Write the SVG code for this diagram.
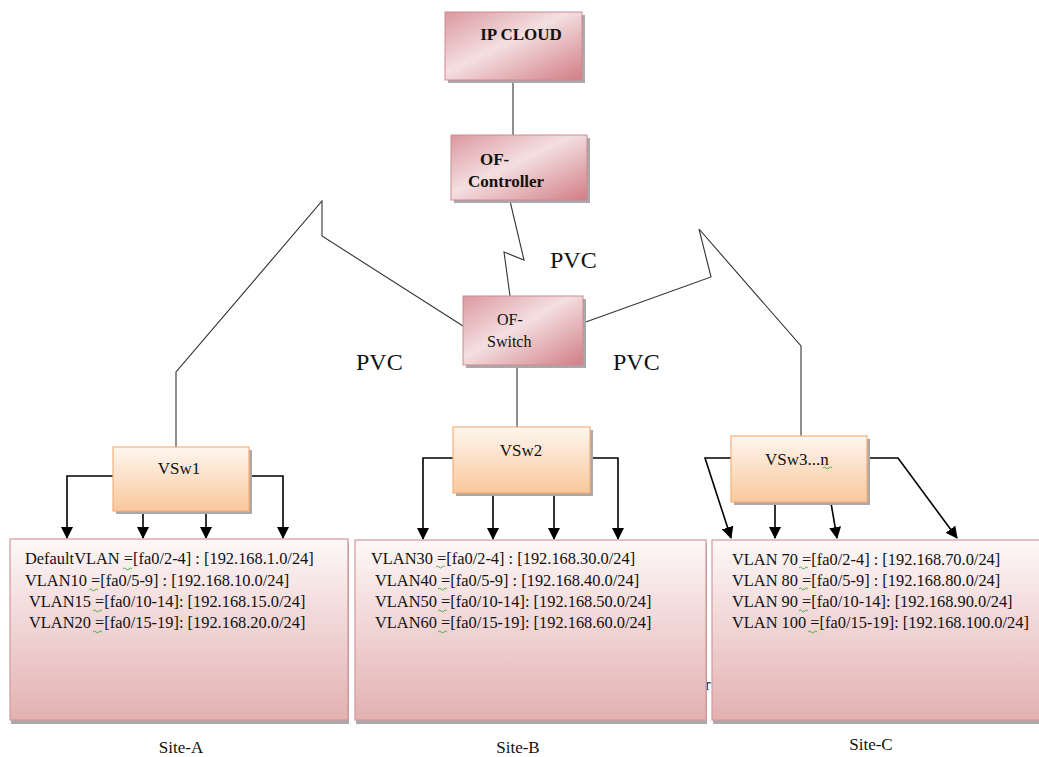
<svg xmlns="http://www.w3.org/2000/svg" width="1039" height="757" viewBox="0 0 1039 757">
<defs>
<linearGradient id="gPink" x1="0" y1="0" x2="1" y2="1">
<stop offset="0" stop-color="#db98a0"/><stop offset="0.45" stop-color="#f4dfe0"/><stop offset="1" stop-color="#d17d86"/>
</linearGradient>
<linearGradient id="gOrange" x1="0" y1="0" x2="0" y2="1">
<stop offset="0" stop-color="#fef6ef"/><stop offset="1" stop-color="#f9c89c"/>
</linearGradient>
<linearGradient id="gSite" x1="0" y1="0" x2="0" y2="1">
<stop offset="0" stop-color="#fdf8f8"/><stop offset="0.35" stop-color="#f4dede"/><stop offset="1" stop-color="#e3b1b2"/>
</linearGradient>
<marker id="arr" viewBox="0 0 12 12" refX="11" refY="6" markerWidth="12" markerHeight="12" markerUnits="userSpaceOnUse" orient="auto">
<path d="M0,0 L12,6 L0,12 Z" fill="#000"/>
</marker>
</defs>
<style>
.sh{fill:#a9a9a9}
.pk{fill:url(#gPink);stroke:#d08a90;stroke-width:1}
.or{fill:url(#gOrange);stroke:#f5b07a;stroke-width:1.2}
.st{fill:url(#gSite);stroke:#d8979a;stroke-width:1.2}
.ln{fill:none;stroke:#333;stroke-width:1.1}
.ar{fill:none;stroke:#000;stroke-width:1.6;marker-end:url(#arr)}
.sq{fill:none;stroke:#3aa83a;stroke-width:0.9}
text{font-family:"Liberation Serif","Times New Roman",serif;fill:#111}
.b{font-weight:bold;font-size:17px}
.n{font-size:16.4px}
.w{font-size:16px}
.v{font-size:17px}
.p{font-size:24px}
.s{font-size:17px}
</style>
<rect width="1039" height="757" fill="#fff"/>

<g id="connectors">
<path class="ln" d="M513,80 V135"/>
<path class="ln" d="M510,201 L524,260 L504,252 L510,296"/>
<path class="ln" d="M463,326 L322,236 L322,201 L176,372 L176,447"/>
<path class="ln" d="M583,323 L711,277 L699,229 L801,346 L801,436"/>
<path class="ln" d="M517,365 V428"/>
<path class="ar" d="M113,476 H67 V538"/>
<path class="ar" d="M143,511 V538"/>
<path class="ar" d="M206,511 V538"/>
<path class="ar" d="M249,476 H283 V538"/>
<path class="ar" d="M453,458 H423 V539"/>
<path class="ar" d="M493,494 V539"/>
<path class="ar" d="M554,494 V539"/>
<path class="ar" d="M590,458 H618 V539"/>
<path class="ar" d="M731,458 H705 L731,538"/>
<path class="ar" d="M775,503 V538"/>
<path class="ar" d="M831,503 L837,538"/>
<path class="ar" d="M867,458 H898 L957,538"/>
</g>

<g id="ip-cloud">
<rect class="sh" x="448" y="15" width="137" height="68"/>
<rect class="pk" x="445" y="12" width="137" height="68"/>
<text class="b" x="521" y="40" text-anchor="middle">IP CLOUD</text>
</g>
<g id="of-controller">
<rect class="sh" x="454" y="138" width="136" height="65"/>
<rect class="pk" x="451" y="135" width="136" height="65"/>
<text class="b" x="480" y="165">OF-</text>
<text class="b" x="468" y="187">Controller</text>
</g>
<g id="of-switch">
<rect class="sh" x="466" y="299" width="120" height="69"/>
<rect class="pk" x="463" y="296" width="120" height="69"/>
<text class="w" x="497" y="325">OF-</text>
<text class="w" x="487" y="347">Switch</text>
</g>
<g id="pvc-labels">
<text class="p" x="550" y="268">PVC</text>
<text class="p" x="356" y="370">PVC</text>
<text class="p" x="613" y="370">PVC</text>
</g>

<g id="vsw1">
<rect class="sh" x="116" y="450" width="136" height="64"/>
<rect class="or" x="113" y="447" width="136" height="64"/>
<text class="v" x="179" y="474" text-anchor="middle">VSw1</text>
</g>
<g id="vsw2">
<rect class="sh" x="456" y="430" width="137" height="66"/>
<rect class="or" x="453" y="427" width="137" height="66"/>
<text class="v" x="521" y="456" text-anchor="middle">VSw2</text>
</g>
<g id="vsw3">
<rect class="sh" x="734" y="439" width="136" height="66"/>
<rect class="or" x="731" y="436" width="136" height="66"/>
<text class="v" x="765" y="465">VSw3...n</text>
<path class="sq" d="M823,468 q1.5,-2 3,0 t3,0 t3,0"/>
</g>

<text class="v" x="705" y="690">r</text>

<g id="site-a">
<rect class="sh" x="11" y="542" width="338" height="182"/>
<rect class="st" x="10" y="539" width="338" height="181"/>
<text class="n" x="25" y="564">DefaultVLAN =[fa0/2-4] : [192.168.1.0/24]</text>
<text class="n" x="25" y="586">VLAN10 =[fa0/5-9] : [192.168.10.0/24]</text>
<text class="n" x="29" y="607">VLAN15 =[fa0/10-14]: [192.168.15.0/24]</text>
<text class="n" x="29" y="628">VLAN20 =[fa0/15-19]: [192.168.20.0/24]</text>
<path class="sq" d="M123,569 q1.5,-2 3,0 t3,0 t3,0"/>
<path class="sq" d="M89,590 q1.5,-2 3,0 t3,0 t3,0"/>
<path class="sq" d="M93,611 q1.5,-2 3,0 t3,0 t3,0"/>
<path class="sq" d="M93,632 q1.5,-2 3,0 t3,0 t3,0"/>
</g>
<g id="site-b">
<rect class="sh" x="356" y="543" width="351" height="181"/>
<rect class="st" x="355" y="540" width="351" height="180"/>
<text class="n" x="371" y="564">VLAN30 =[fa0/2-4] : [192.168.30.0/24]</text>
<text class="n" x="375" y="586">VLAN40 =[fa0/5-9] : [192.168.40.0/24]</text>
<text class="n" x="375" y="607">VLAN50 =[fa0/10-14]: [192.168.50.0/24]</text>
<text class="n" x="375" y="628">VLAN60 =[fa0/15-19]: [192.168.60.0/24]</text>
<path class="sq" d="M436,567 q1.5,-2 3,0 t3,0 t3,0"/>
<path class="sq" d="M438,589 q1.5,-2 3,0 t3,0 t3,0"/>
<path class="sq" d="M438,611 q1.5,-2 3,0 t3,0 t3,0"/>
<path class="sq" d="M438,632 q1.5,-2 3,0 t3,0 t3,0"/>
</g>
<g id="site-c">
<rect class="sh" x="713" y="543" width="340" height="181"/>
<rect class="st" x="712" y="540" width="340" height="180"/>
<text class="n" x="732" y="565">VLAN 70 =[fa0/2-4] : [192.168.70.0/24]</text>
<text class="n" x="732" y="586">VLAN 80 =[fa0/5-9] : [192.168.80.0/24]</text>
<text class="n" x="732" y="607">VLAN 90 =[fa0/10-14]: [192.168.90.0/24]</text>
<text class="n" x="732" y="628">VLAN 100 =[fa0/15-19]: [192.168.100.0/24]</text>
<path class="sq" d="M799,568 q1.5,-2 3,0 t3,0 t3,0"/>
<path class="sq" d="M799,589 q1.5,-2 3,0 t3,0 t3,0"/>
<path class="sq" d="M799,611 q1.5,-2 3,0 t3,0 t3,0"/>
<path class="sq" d="M808,632 q1.5,-2 3,0 t3,0 t3,0"/>
</g>

<g id="site-labels">
<text class="s" x="181" y="753" text-anchor="middle">Site-A</text>
<text class="s" x="518" y="753" text-anchor="middle">Site-B</text>
<text class="s" x="871" y="750" text-anchor="middle">Site-C</text>
</g>
</svg>
